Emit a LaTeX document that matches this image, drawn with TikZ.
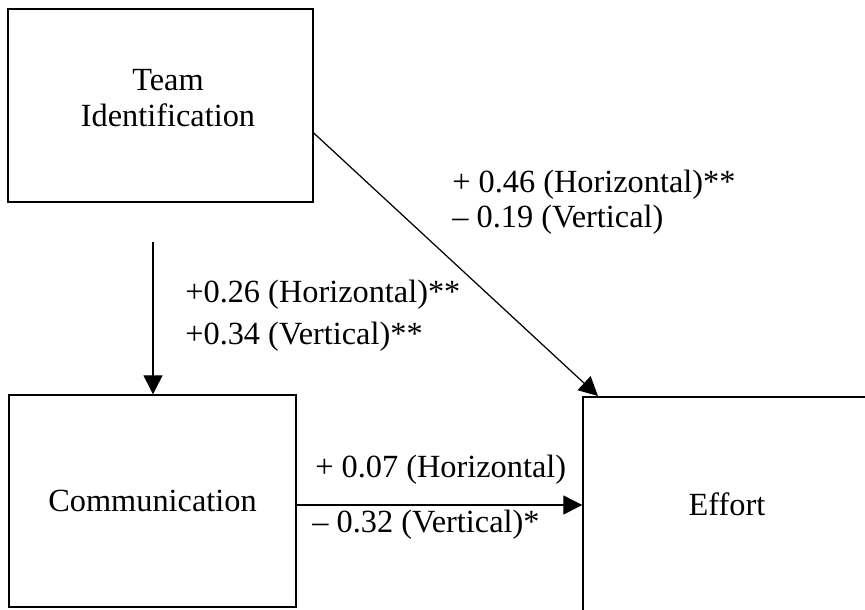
\documentclass[tikz,border=0pt]{standalone}
\usepackage{fontspec}
\setmainfont{Liberation Serif}
\usetikzlibrary{positioning,arrows.meta}

\tikzset{
  varbox/.style={draw, line width=0.8pt, inner sep=0pt, align=center},
  coef/.style={anchor=west, inner sep=0pt},
  path/.style={line width=0.7pt, -{Triangle[length=0.38cm,width=0.38cm]}}
}

\begin{document}
\begin{tikzpicture}[x=0.02cm, y=-0.02cm, font=\fontsize{18.4}{20}\selectfont]
\useasboundingbox (0,0) rectangle (865,609);
\clip (0,0) rectangle (865,609);
% variables
\node[varbox, minimum width=305*0.02cm, minimum height=193*0.02cm] (team) at (160.5,105.5) {};
\node[align=center, inner sep=0pt] (teamlbl) at (168,98) {Team\\Identification};
\node[varbox, minimum width=287*0.02cm, minimum height=212*0.02cm] (comm) at (152.5,501) {Communication};
\node[varbox, minimum width=288*0.02cm, minimum height=214*0.02cm] (effort) at (727,504) {Effort};
\coordinate (start) at (153,242);
\coordinate (hit) at (598,396);
% paths
\draw[path] (start) -- (comm.north -| start);
\draw[path] (team.east |- 0,133) -- (hit);
\draw[path] (comm.east |- 0,505) -- (effort.west |- 0,505);
% coefficients
\node[coef] (c1) at (185,295) {+0.26 (Horizontal)**};
\node[coef] (c2) at (185,337) {+0.34 (Vertical)**};
\node[coef] (c3) at (452,185) {+ 0.46 (Horizontal)**};
\node[coef] (c4) at (452,220) {-- 0.19 (Vertical)};
\node[coef] (c5) at (315,470) {+ 0.07 (Horizontal)};
\node[coef] (c6) at (312,525) {-- 0.32 (Vertical)*};
\end{tikzpicture}
\end{document}
